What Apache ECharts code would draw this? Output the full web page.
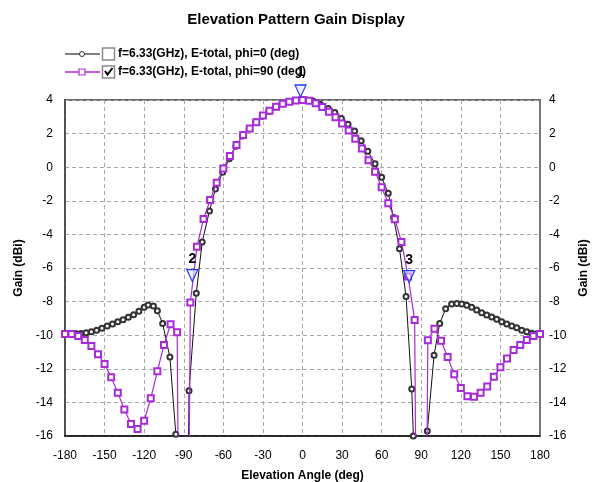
<!DOCTYPE html>
<html>
<head>
<meta charset="utf-8">
<script src="https://cdn.jsdelivr.net/npm/echarts@6/dist/echarts.min.js"></script>
<style>
  html, body { margin: 0; padding: 0; background: #fff; }
  #chart { width: 592px; height: 482px; }
</style>
</head>
<body>
<div id="chart"></div>
<script>
// Elevation cut, phi = 0 deg (black trace)
const phi0Angles = [-180,-176,-172,-168,-164,-160,-156,-152,-148,-144,-140,-136,-132,-128,-124,-120,-117,-113,-110,-106,-100.5,-96,-91,-86,-80.5,-76,-70.5,-66,-60.5,-55.5,-50.5,-45.5,-40.5,-35.5,-30.5,-25.5,-20.5,-15.5,-10.5,-5.5,-1,3,8,13.5,19.5,24.5,29.5,34.5,39.5,44.5,49.5,55,60,65,69,73.5,78.5,82.8,84,89,94.6,99.7,104,108.5,113,117,120.7,124.5,128.2,132,135.8,139.6,143.4,147.2,151,154.8,158.6,162.4,166.1,170,173.7,177,180];
const phi0Gain = [-9.9,-9.9,-9.9,-9.9,-9.86,-9.8,-9.7,-9.58,-9.45,-9.33,-9.2,-9.08,-8.93,-8.78,-8.58,-8.33,-8.2,-8.26,-8.54,-9.3,-11.3,-15.9,-60,-13.3,-7.5,-4.45,-2.6,-1.3,-0.3,0.5,1.25,1.85,2.28,2.7,3.03,3.33,3.58,3.77,3.9,3.97,4.0,4.0,3.94,3.74,3.5,3.25,2.9,2.55,2.15,1.58,0.95,0.2,-0.6,-1.55,-3.0,-4.85,-7.7,-13.2,-16.0,-60,-15.7,-11.2,-9.3,-8.42,-8.14,-8.12,-8.15,-8.22,-8.34,-8.5,-8.66,-8.8,-8.92,-9.05,-9.2,-9.33,-9.45,-9.55,-9.7,-9.79,-9.88,-9.93,-9.97];

// Elevation cut, phi = 90 deg (purple trace), 5 deg steps
const phi90Angles = [-180,-175,-170,-165,-160,-155,-150,-145,-140,-135,-130,-125,-120,-115,-110,-105,-100,-95,-90,-85,-80,-75,-70,-65,-60,-55,-50,-45,-40,-35,-30,-25,-20,-15,-10,-5,0,5,10,15,20,25,30,35,40,45,50,55,60,65,70,75,80,85,90,95,100,105,110,115,120,125,130,135,140,145,150,155,160,165,170,175,180];
const phi90Gain = [-9.93,-9.93,-10.05,-10.29,-10.64,-11.14,-11.71,-12.51,-13.42,-14.43,-15.29,-15.58,-15.09,-13.76,-12.15,-10.58,-9.35,-9.83,-60,-8.06,-4.73,-3.08,-1.95,-0.92,-0.07,0.67,1.32,1.92,2.31,2.67,3.07,3.36,3.6,3.77,3.9,3.97,4.0,3.95,3.8,3.58,3.3,2.98,2.6,2.18,1.7,1.12,0.42,-0.27,-1.2,-2.15,-3.1,-4.45,-6.5,-9.1,-60,-10.3,-9.62,-10.33,-11.3,-12.33,-13.15,-13.63,-13.66,-13.42,-13.06,-12.47,-11.91,-11.38,-10.88,-10.58,-10.29,-10.05,-9.93];

// Numbered cursor markers (triangle tip sits just above the marked point)
const markerNames = ['1', '2', '3'];
const markerAngles = [-1.5, -83.5, 80.9];
const markerGains = [4.0, -6.99, -7.05];

// Axis ranges / tick steps
const xTicks = { min: -180, max: 180, step: 30 };
const yTicks = { min: -16, max: 4, step: 2 };

const legendLabels = [
  'f=6.33(GHz), E-total, phi=0 (deg)',
  'f=6.33(GHz), E-total, phi=90 (deg)'
];

const BLACK = '#000000';
const PURPLE = '#a72bd9';
const FONT = '"Liberation Sans", Arial, sans-serif';

const pairs = (xs, ys) => xs.map((x, i) => [x, ys[i]]);

const chart = echarts.init(document.getElementById('chart'), null, { renderer: 'canvas' });

const axisLabelStyle = { color: '#000', fontFamily: FONT, fontSize: 12 };
const splitLineStyle = { show: true, lineStyle: { color: '#a8a8a8', type: [4, 3], width: 1 } };

const yAxisBase = (pos, lineColor) => ({
  type: 'value',
  position: pos,
  min: yTicks.min,
  max: yTicks.max,
  interval: yTicks.step,
  name: 'Gain (dBi)',
  nameLocation: 'middle',
  nameRotate: 90,
  nameGap: pos === 'left' ? 38 : 36,
  nameTextStyle: { color: '#000', fontFamily: FONT, fontSize: 12, fontWeight: 'bold' },
  axisLine: { show: true, onZero: false, lineStyle: { color: lineColor, width: pos === 'left' ? 1.5 : 2 } },
  axisTick: { show: false },
  axisLabel: Object.assign({ margin: pos === 'left' ? 12 : 9 }, axisLabelStyle),
  splitLine: pos === 'left' ? splitLineStyle : { show: false }
});

// the top cursor label sits a little higher above its triangle
const markerLabelDistance = [5, 3, 3];

const option = {
  backgroundColor: '#ffffff',
  animation: false,
  title: {
    text: 'Elevation Pattern Gain Display',
    left: 'center',
    top: 7,
    textStyle: { color: '#000', fontFamily: FONT, fontSize: 15, fontWeight: 'bold' }
  },
  grid: {
    left: 65, right: 52, top: 100, bottom: 46,
    outerBoundsMode: 'none',
    containLabel: false,
    show: true, borderColor: '#6a6a6a', borderWidth: 2, backgroundColor: 'transparent'
  },
  xAxis: {
    type: 'value',
    min: xTicks.min,
    max: xTicks.max,
    interval: xTicks.step,
    name: 'Elevation Angle (deg)',
    nameLocation: 'middle',
    nameGap: 34,
    nameTextStyle: { color: '#000', fontFamily: FONT, fontSize: 12, fontWeight: 'bold' },
    axisLine: { show: true, onZero: false, lineStyle: { color: '#111', width: 1.5 } },
    axisTick: { show: false },
    axisLabel: Object.assign({ margin: 14 }, axisLabelStyle),
    splitLine: splitLineStyle
  },
  yAxis: [yAxisBase('left', '#444'), yAxisBase('right', '#777')],
  series: [
    {
      name: legendLabels[0],
      type: 'line',
      data: pairs(phi0Angles, phi0Gain),
      clip: true,
      symbol: 'emptyCircle',
      symbolSize: 5,
      showAllSymbol: true,
      lineStyle: { color: '#111', width: 1 },
      itemStyle: { color: '#333', borderColor: '#333', borderWidth: 0.8 },
      z: 2
    },
    {
      name: legendLabels[1],
      type: 'line',
      data: pairs(phi90Angles, phi90Gain),
      clip: true,
      symbol: 'emptyRect',
      symbolSize: 6,
      showAllSymbol: true,
      lineStyle: { color: PURPLE, width: 1.2 },
      itemStyle: { color: PURPLE, borderColor: PURPLE, borderWidth: 1 },
      z: 3,
      markPoint: {
        symbol: 'path://M0,0L12,0L6,13Z',
        symbolSize: [11, 12],
        symbolOffset: [0, -9],
        itemStyle: { color: 'rgba(225,232,255,0.55)', borderColor: '#2438ff', borderWidth: 1.2 },
        label: {
          show: true,
          position: 'top',
          formatter: p => p.name,
          color: '#000',
          fontFamily: FONT,
          fontSize: 14,
          fontWeight: 'bold'
        },
        data: markerNames.map((n, i) => ({
          name: n,
          coord: [markerAngles[i], markerGains[i]],
          label: { distance: markerLabelDistance[i] }
        }))
      }
    }
  ],
  graphic: [
    // legend row 1: phi = 0
    { type: 'line', shape: { x1: 65, y1: 54, x2: 100, y2: 54 }, style: { stroke: BLACK, lineWidth: 1 } },
    { type: 'circle', shape: { cx: 82, cy: 54, r: 2.5 }, style: { fill: '#fff', stroke: '#333', lineWidth: 1 } },
    { type: 'rect', shape: { x: 102.5, y: 48, width: 12, height: 12 }, style: { fill: '#fff', stroke: '#8a8a8a', lineWidth: 1.5 } },
    { type: 'text', x: 118, y: 54, style: { text: legendLabels[0], fill: '#000', font: 'bold 12px ' + FONT, textVerticalAlign: 'middle' } },
    // legend row 2: phi = 90
    { type: 'line', shape: { x1: 65, y1: 72, x2: 100, y2: 72 }, style: { stroke: PURPLE, lineWidth: 1.3 } },
    { type: 'rect', shape: { x: 79, y: 69, width: 6, height: 6 }, style: { fill: '#fff', stroke: PURPLE, lineWidth: 1.2 } },
    { type: 'rect', shape: { x: 102.5, y: 66, width: 12, height: 12 }, style: { fill: '#fff', stroke: '#8a8a8a', lineWidth: 1.5 } },
    { type: 'polyline', shape: { points: [[105, 71], [107.5, 74.5], [112.5, 68]] }, style: { stroke: '#000', lineWidth: 2, fill: null } },
    { type: 'text', x: 118, y: 72, style: { text: legendLabels[1], fill: '#000', font: 'bold 12px ' + FONT, textVerticalAlign: 'middle' } }
  ]
};

chart.setOption(option);
</script>
</body>
</html>
